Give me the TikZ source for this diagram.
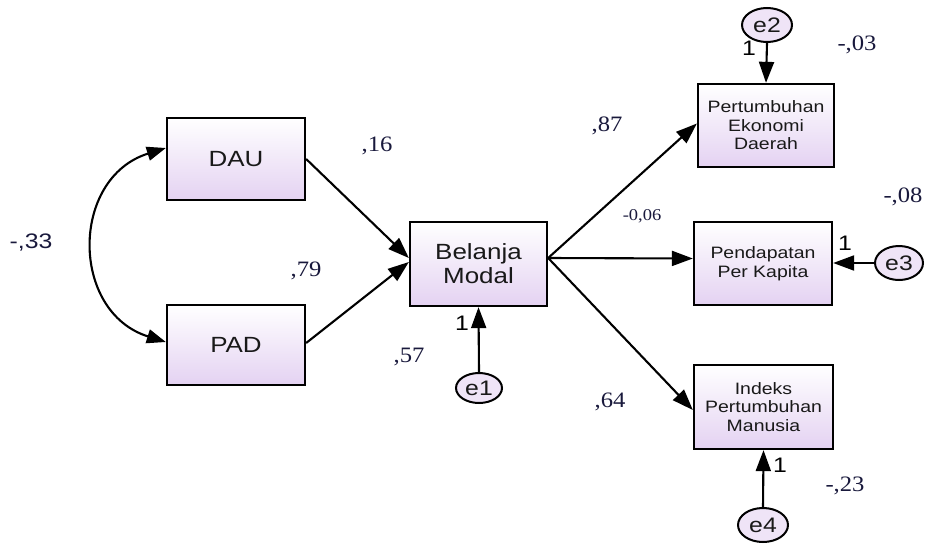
\documentclass[tikz,border=0pt]{standalone}
\usepackage{fontspec}
\usetikzlibrary{arrows.meta,shapes.geometric}
\newfontfamily\boxfont[FakeStretch=1.18]{Liberation Sans}
\newfontfamily\numfont[FakeStretch=1.12]{Liberation Serif}
\definecolor{lav}{RGB}{228,210,242}
\definecolor{numcol}{RGB}{25,25,60}
\tikzset{
  varbox/.style={draw=black, line width=2.3pt, rectangle, left color=white, right color=lav,
    shading angle=0, minimum width=#1, inner sep=0pt, align=center, text=black!90},
  errell/.style={draw=black, line width=2pt, ellipse, inner sep=0pt, fill=lav!60,
    font=\boxfont\fontsize{21}{23}\selectfont, text=black!90},
  path/.style={line width=2.1pt, -{Triangle[length=21pt,width=15pt]}},
  cov/.style={line width=2.1pt, {Triangle[length=19pt,width=14pt]}-{Triangle[length=19pt,width=14pt]}},
  est/.style={font=\numfont\fontsize{22}{24}\selectfont, text=numcol, inner sep=0pt},
  one/.style={font=\boxfont\fontsize{21}{23}\selectfont, text=black, inner sep=0pt},
  big/.style={font=\boxfont\fontsize{22}{24}\selectfont},
  small/.style={font=\boxfont\fontsize{16.5}{18.5}\selectfont}
}
\begin{document}
\begin{tikzpicture}[x=1pt,y=-1pt]
\useasboundingbox (0,0) rectangle (925,546);
% main variables
\node[varbox=138pt, minimum height=82pt, big] (dau) at (236,159) {DAU};
\node[varbox=138pt, minimum height=80pt, big] (pad) at (236,345) {PAD};
\node[varbox=137pt, minimum height=84pt, big] (bm) at (478.5,264) {Belanja\\Modal};
\node[varbox=136pt, minimum height=83pt, small] (ped) at (766,125.5) {Pertumbuhan\\Ekonomi\\Daerah};
\node[varbox=138pt, minimum height=83pt, small] (ppk) at (763,263.5) {Pendapatan\\Per Kapita};
\node[varbox=139pt, minimum height=84pt, small] (ipm) at (763.5,407) {Indeks\\Pertumbuhan\\Manusia};
% errors
\node[errell, minimum width=46pt, minimum height=30pt] (e1) at (479,388) {e1};
\node[errell, minimum width=50pt, minimum height=34pt] (e2) at (767,25) {e2};
\node[errell, minimum width=48pt, minimum height=34pt] (e3) at (899,263) {e3};
\node[errell, minimum width=50pt, minimum height=34pt] (e4) at (763,525) {e4};
% paths
\draw[path] (dau.east) -- ([yshift=6pt]bm.west);
\draw[path] ([yshift=2pt]pad.east) -- ([yshift=2pt]bm.west);
\draw[path] ([yshift=6pt]bm.east) -- ([yshift=2pt]ped.west);
\draw[path] ([yshift=6pt]bm.east) -- ([yshift=5pt]ppk.west);
\draw[path] ([yshift=6pt]bm.east) -- ([yshift=-3pt]ipm.west);
\draw[cov] ([yshift=11pt]dau.west) .. controls (70,178) and (70,312) .. ([yshift=3pt]pad.west);
% error paths
\draw[path] (e1.north) -- (bm.south);
\draw[path] (e2.south) -- (ped.north);
\draw[path] (e3.west) -- ([yshift=0.5pt]ppk.east);
\draw[path] (e4.north) -- (ipm.south);
% fixed loadings
\node[one] (o1) at (462,323) {1};
\node[one] (o2) at (749,48) {1};
\node[one] (o3) at (845,243) {1};
\node[one] (o4) at (780,465) {1};
% estimates
\node[est] (n16) at (377,146) {,16};
\node[est] (n79) at (306,271) {,79};
\node[est, font=\boxfont\fontsize{21}{23}\selectfont] (n33) at (31,243) {-,33};
\node[est] (n57) at (409,357) {,57};
\node[est] (n87) at (607,126) {,87};
\node[est, font=\numfont\fontsize{16.5}{18}\selectfont] (n06) at (642,216) {-0,06};
\node[est] (n64) at (610,402) {,64};
\node[est] (n03) at (857,45) {-,03};
\node[est] (n08) at (903,197) {-,08};
\node[est] (n23) at (845,486) {-,23};
\end{tikzpicture}
\end{document}
